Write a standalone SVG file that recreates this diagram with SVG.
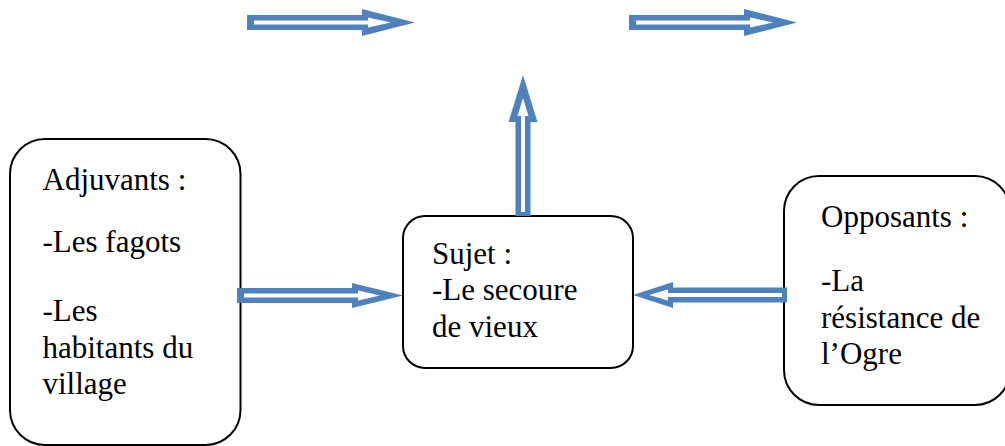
<svg xmlns="http://www.w3.org/2000/svg" width="1005" height="446" viewBox="0 0 1005 446">
  <style>
    .box { fill: #ffffff; stroke: #000000; stroke-width: 2; }
    .lbl { font-family: "Liberation Serif", "Times New Roman", serif; font-size: 31px; fill: #000000; }
    .arr-out { fill: #4F81BD; }
    .arr-in { fill: #ffffff; }
  </style>

  <rect width="1005" height="446" fill="#ffffff"/>

  <!-- Helpers -->
  <g id="adjuvants">
    <rect class="box" x="10" y="139" width="230.5" height="306" rx="35" ry="35"/>
    <text class="lbl" x="42.5" y="190">Adjuvants :</text>
    <text class="lbl" x="42.5" y="252">-Les fagots</text>
    <text class="lbl" x="42.5" y="321">-Les</text>
    <text class="lbl" x="42.5" y="358">habitants du</text>
    <text class="lbl" x="42.5" y="394">village</text>
  </g>

  <!-- Subject -->
  <g id="sujet">
    <rect class="box" x="403" y="216" width="230" height="152" rx="22" ry="22"/>
    <text class="lbl" x="432" y="264">Sujet :</text>
    <text class="lbl" x="432" y="300">-Le secoure</text>
    <text class="lbl" x="432" y="337">de vieux</text>
  </g>

  <!-- Opponents -->
  <g id="opposants">
    <rect class="box" x="784" y="176" width="226" height="229" rx="35" ry="35"/>
    <text class="lbl" x="821" y="227">Opposants :</text>
    <text class="lbl" x="821" y="291">-La</text>
    <text class="lbl" x="821" y="328">résistance de</text>
    <text class="lbl" x="821" y="364">l’Ogre</text>
  </g>

  <!-- Hollow block arrows -->
  <g id="connectors">
    <!-- top row, left -->
    <polygon class="arr-out" points="247,15 362,15 362,9 415,22.5 362,36 362,30 247,30"/>
    <polygon class="arr-in" points="254,20.5 368,20.5 368,17.5 391,22.5 368,27.5 368,24.5 254,24.5"/>
    <!-- top row, right -->
    <polygon class="arr-out" points="629,15 744,15 744,9 797,22.5 744,36 744,30 629,30"/>
    <polygon class="arr-in" points="636,20.5 750,20.5 750,17.5 773,22.5 750,27.5 750,24.5 636,24.5"/>
    <!-- subject upwards -->
    <polygon class="arr-out" points="515.5,216 515.5,122 508.5,122 523,75 537.5,122 530.5,122 530.5,216"/>
    <polygon class="arr-in" points="521,212 521,116 517.5,116 523,98 528.5,116 525,116 525,212"/>
    <!-- helpers to subject -->
    <polygon class="arr-out" points="237,288 352,288 352,283 403,295.5 352,308 352,303 237,303"/>
    <polygon class="arr-in" points="244,293.5 358,293.5 358,290.5 380,295.5 358,300.5 358,297.5 244,297.5"/>
    <!-- opponents to subject -->
    <polygon class="arr-out" points="787,287.5 673,287.5 673,282 633,295 673,308 673,302.5 787,302.5"/>
    <polygon class="arr-in" points="782,293 668,293 668,289.5 649,295 668,300.5 668,297 782,297"/>
  </g>
</svg>
